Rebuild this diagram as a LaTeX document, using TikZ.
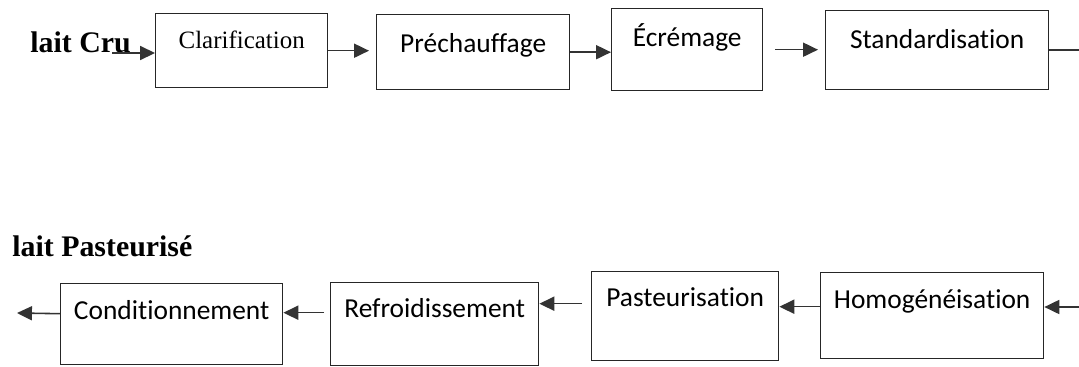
\documentclass[tikz,border=0pt]{standalone}
\usepackage{fontspec}
\setmainfont{Liberation Serif}
\newfontfamily\carlito[Ligatures=NoCommon]{Carlito}
\usetikzlibrary{arrows.meta}
\begin{document}
\begin{tikzpicture}[x=0.02cm,y=-0.02cm,
  etape/.style={draw=black!85,line width=0.8pt,anchor=north west,inner ysep=0pt,font=\carlito\fontsize{15.6}{18}\selectfont},
  fleche/.style={draw=black!80,line width=0.9pt,-{Triangle[length=8.5pt,width=8pt]}},
  trait/.style={draw=black!80,line width=0.9pt},
  titre/.style={anchor=base west,inner sep=0pt,font=\bfseries\fontsize{17}{20}\selectfont}]
\useasboundingbox (0,0) rectangle (1079,366);
% ligne du haut
\node[titre] (Cru) at (30,52) {lait Cru};
\node[etape,font=\fontsize{14.2}{17}\selectfont,minimum width=3.44cm,text height=0.69cm,text depth=0.79cm] (Cl) at (155,13) {Clarification};
\node[etape,minimum width=3.86cm,text height=0.76cm,text depth=0.74cm] (Pr) at (376,14) {Préchauffage};
\node[etape,minimum width=3.02cm,text height=0.75cm,text depth=0.89cm] (Ec) at (611,8) {Écrémage};
\node[etape,minimum width=4.46cm,text height=0.75cm,text depth=0.83cm] (St) at (825,10) {Standardisation};
\coordinate (u) at (112,53);
\coordinate (fin) at (1079,50);
\draw [fleche] (u) -- (u -| Cl.west);
\draw [fleche,shorten >=0.14cm] (Cl.east) -- (Cl.east -| Pr.west);
\draw [fleche] (Pr.east) -- (Pr.east -| Ec.west);
\draw [fleche,shorten <=0.24cm,shorten >=0.14cm] (Ec.east) -- (Ec.east -| St.west);
\draw [trait] (St.east) -- (St.east -| fin);
% ligne du bas
\node[titre] (Past) at (12,256) {lait Pasteurisé};
\node[etape,minimum width=4.44cm,text height=0.72cm,text depth=0.90cm] (Co) at (60,283) {Conditionnement};
\node[etape,minimum width=4.16cm,text height=0.70cm,text depth=0.96cm] (Re) at (330,282) {Refroidissement};
\node[etape,minimum width=3.74cm,text height=0.70cm,text depth=1.08cm] (Pa) at (591,271) {Pasteurisation};
\node[etape,minimum width=4.46cm,text height=0.72cm,text depth=1.00cm] (Ho) at (820,272) {Homogénéisation};
\coordinate (sortie) at (17,313);
\coordinate (debut) at (1079,307);
\draw [fleche] ([yshift=0.21cm]Co.west) -- (sortie);
\draw [fleche,shorten <=0.12cm] ([yshift=0.23cm]Re.west) -- ([yshift=0.23cm]Re.west -| Co.east);
\draw [fleche,shorten <=0.18cm] ([yshift=0.25cm]Pa.west) -- ([yshift=0.25cm]Pa.west -| Re.east);
\draw [fleche] ([yshift=0.18cm]Ho.west) -- ([yshift=0.18cm]Ho.west -| Pa.east);
\draw [fleche] (debut) -- (debut -| Ho.east);
\end{tikzpicture}
\end{document}
